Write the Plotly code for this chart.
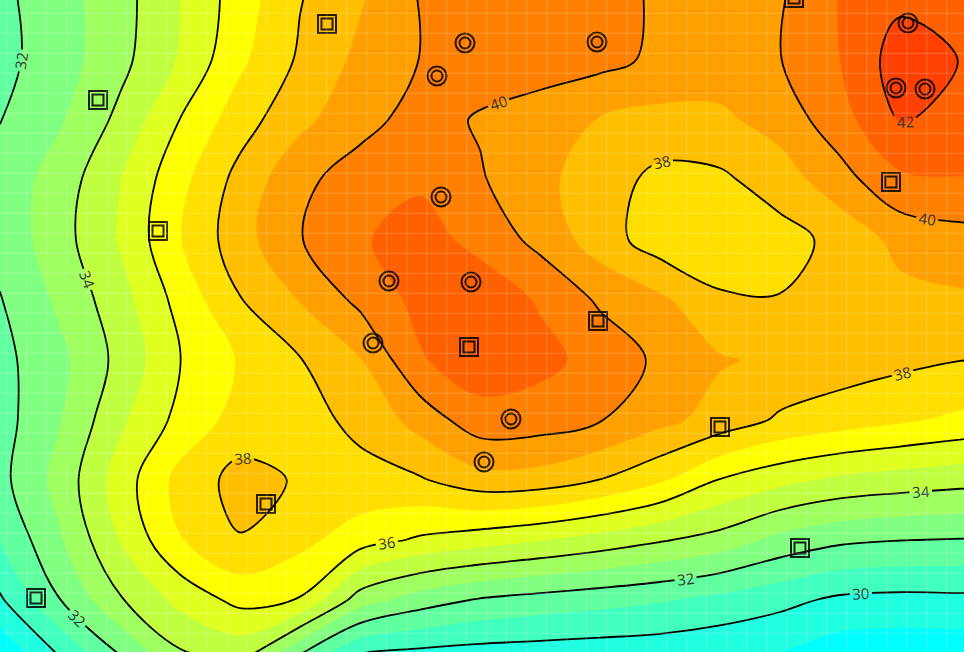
import plotly.graph_objects as go

# ---- data (1 unit = 20 px of the reference image; y grows downward) ----
grid_x = [0, 3, 6, 9, 12, 15, 18, 21, 24, 27, 30, 33, 36, 39, 42, 45, 48, 51]
grid_y = [0, 3, 6, 9, 12, 15, 18, 21, 24, 27, 30, 33]

z_y00 = [31.75, 32.6, 33.6, 35.0, 36.5, 37.95, 38.9, 40.05, 40.5, 40.6, 40.4, 39.85, 39.7, 39.9, 41.05, 41.8, 41.6, 41.4]
z_y03 = [31.7, 32.55, 33.7, 35.1, 36.8, 38.15, 39.25, 40.02, 40.5, 40.6, 40.3, 39.8, 39.55, 39.97, 41.0, 42.5, 41.98, 41.5]
z_y06 = [31.97, 32.9, 34.25, 36.02, 37.55, 38.75, 39.65, 40.4, 39.9, 39.4, 38.95, 38.7, 38.8, 39.4, 40.6, 42.05, 41.8, 41.4]
z_y09 = [32.4, 33.45, 34.98, 36.7, 38.35, 39.75, 40.5, 40.85, 40.1, 39.25, 38.5, 37.7, 37.8, 38.5, 39.6, 40.8, 40.95, 40.95]
z_y12 = [32.3, 33.6, 35.1, 36.95, 38.6, 39.95, 40.9, 41.4, 40.7, 39.7, 38.5, 37.45, 37.3, 37.6, 38.3, 39.3, 39.6, 39.7]
z_y15 = [31.95, 33.2, 34.6, 36.35, 37.95, 39.05, 40.25, 41.3, 41.65, 40.9, 39.85, 39.2, 38.15, 38.05, 38.4, 38.7, 38.85, 38.9]
z_y18 = [31.7, 32.75, 34.3, 35.95, 37.1, 37.95, 38.95, 40.9, 41.6, 41.3, 40.65, 39.8, 39.1, 38.8, 38.5, 38.25, 38.02, 37.9]
z_y21 = [31.6, 32.95, 34.8, 36.3, 37.4, 37.7, 38.2, 39.4, 40.6, 40.5, 40.05, 39.3, 38.6, 37.85, 37.5, 37.15, 36.8, 36.6]
z_y24 = [31.7, 33.35, 35.45, 37.35, 38.35, 37.9, 37.75, 37.9, 38.6, 38.55, 37.98, 37.15, 35.95, 35.3, 34.8, 34.55, 34.35, 34.2]
z_y27 = [31.05, 32.9, 35.05, 36.95, 37.95, 37.3, 36.45, 35.85, 35.45, 35.05, 34.6, 34.1, 33.6, 32.7, 32.2, 32.02, 31.95, 31.9]
z_y30 = [29.85, 31.98, 33.9, 35.3, 36.3, 35.95, 33.5, 32.5, 31.9, 31.6, 31.35, 31.1, 30.7, 30.3, 29.8, 29.7, 29.75, 29.75]
z_y33 = [28.0, 29.9, 31.8, 33.7, 34.1, 31.6, 29.6, 29.4, 29.3, 29.25, 29.2, 29.15, 29.05, 28.8, 28.3, 28.2, 28.2, 28.2]
z_grid = [z_y00, z_y03, z_y06, z_y09, z_y12, z_y15, z_y18, z_y21, z_y24, z_y27, z_y30, z_y33]

circle_x = [23.25, 29.85, 21.85, 22.05, 19.45, 23.55, 18.65, 25.55, 24.2, 45.4, 44.8, 46.25]
circle_y = [2.15, 2.1, 3.8, 9.85, 14.05, 14.1, 17.15, 20.95, 23.1, 1.15, 4.4, 4.45]
square_x = [16.35, 4.9, 7.9, 23.45, 29.9, 44.55, 36.0, 13.3, 40.0, 1.8, 39.7]
square_y = [1.2, 5.0, 11.55, 17.35, 16.05, 9.1, 21.35, 25.2, 27.4, 29.9, -0.1]

fill_start, fill_end, fill_step = 29, 43, 1
line_start, line_end, line_step = 30, 42, 2

# ---- style ----
band_colors = ["#00FFFF", "#20FFDF", "#40FFBF", "#60FF9F", "#80FF80", "#9FFF60",
               "#BFFF40", "#DFFF20", "#FFFF00", "#FFDF00", "#FFBF00", "#FF9F00",
               "#FF8000", "#FF6000", "#FF4000", "#FF2000"]
colorscale = [[i / (len(band_colors) - 1), c] for i, c in enumerate(band_colors)]
ink = "rgba(0,0,0,0.85)"

fig = go.Figure()
fig.add_trace(go.Contour(
    x=grid_x, y=grid_y, z=z_grid, autocontour=False,
    contours=dict(start=fill_start, end=fill_end, size=fill_step, coloring="fill", showlines=False),
    colorscale=colorscale, showscale=False, line=dict(width=0, smoothing=1.0),
    hoverinfo="skip"))
fig.add_trace(go.Contour(
    x=grid_x, y=grid_y, z=z_grid, autocontour=False,
    contours=dict(start=line_start, end=line_end, size=line_step, coloring="none",
                  showlabels=True,
                  labelfont=dict(size=15, color="#333333", family="Open Sans")),
    line=dict(color="black", width=1.8, smoothing=1.0), showscale=False,
    hoverinfo="skip"))

for sym, xs, ys, sizes in [("circle-open", circle_x, circle_y, (19, 11)),
                           ("square-open", square_x, square_y, (18, 11))]:
    for s in sizes:
        fig.add_trace(go.Scatter(
            x=xs, y=ys, mode="markers", hoverinfo="skip",
            marker=dict(symbol=sym, size=s, color=ink, line=dict(width=2, color=ink))))

x_max, y_max = 48.2, 32.6
shapes = []
k = 0
while 0.335 + k < x_max:
    gx = 0.335 + k
    shapes.append(dict(type="line", xref="x", yref="y", x0=gx, x1=gx, y0=0, y1=y_max,
                       line=dict(color="rgba(255,255,255,0.22)", width=1), layer="above"))
    k += 1
k = 0
while 0.665 + k < y_max:
    gy = 0.665 + k
    shapes.append(dict(type="line", xref="x", yref="y", x0=0, x1=x_max, y0=gy, y1=gy,
                       line=dict(color="rgba(255,255,255,0.22)", width=1), layer="above"))
    k += 1

fig.update_layout(
    width=964, height=652, margin=dict(l=0, r=0, t=0, b=0), showlegend=False,
    paper_bgcolor="white", plot_bgcolor="white",
    xaxis=dict(range=[0, x_max], visible=False, fixedrange=True),
    yaxis=dict(range=[y_max, 0], visible=False, fixedrange=True),
    shapes=shapes)

fig.write_html("out.html", config={"displayModeBar": False},
               post_script="document.body.style.margin='0';")
